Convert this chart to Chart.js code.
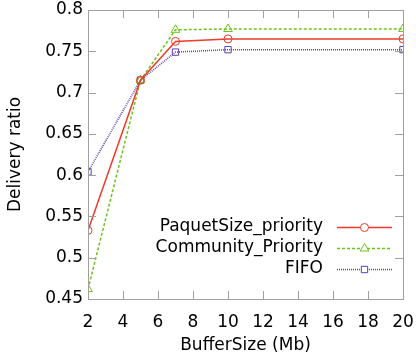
<!DOCTYPE html>
<html>
<head>
<meta charset="utf-8">
<script src="https://cdn.jsdelivr.net/npm/chart.js@4.4.1/dist/chart.umd.min.js"></script>
<style>
  html, body { margin: 0; padding: 0; background: #fff; }
  #wrap { width: 416px; height: 359px; position: relative; }
</style>
</head>
<body>
<div id="wrap"><canvas id="chart"></canvas></div>
<script>
'use strict';

// Data
const bufferSizes = [2, 5, 7, 10, 20];
const paquetSizePriority = [0.533, 0.715, 0.762, 0.765, 0.765];
const communityPriority = [0.462, 0.715, 0.776, 0.777, 0.777];
const fifo = [0.604, 0.715, 0.749, 0.752, 0.752];

const xTicks = [2, 4, 6, 8, 10, 12, 14, 16, 18, 20];
const yTicks = [0.45, 0.5, 0.55, 0.6, 0.65, 0.7, 0.75, 0.8];

const FONT = 'DejaVu Sans';
const BORDER = '#a0a0a0';

const toPoints = (ys) => bufferSizes.map((x, i) => ({ x: x, y: ys[i] }));

// gnuplot-like frame: grey border, inward ticks mirrored on all sides, legend inside
const framePlugin = {
    id: 'frame',
    afterDatasetsDraw(chart) {
        const { ctx, chartArea: a, scales } = chart;
        ctx.save();
        ctx.strokeStyle = BORDER;
        ctx.lineWidth = 1;
        ctx.setLineDash([]);
        ctx.strokeRect(Math.round(a.left) + 0.5, Math.round(a.top) + 0.5,
            Math.round(a.right - a.left), Math.round(a.bottom - a.top));

        const len = 8;
        ctx.beginPath();
        xTicks.forEach(v => {
            const px = Math.round(scales.x.getPixelForValue(v)) + 0.5;
            ctx.moveTo(px, a.bottom); ctx.lineTo(px, a.bottom - len);
            ctx.moveTo(px, a.top); ctx.lineTo(px, a.top + len);
        });
        yTicks.forEach(v => {
            const py = Math.round(scales.y.getPixelForValue(v)) + 0.5;
            ctx.moveTo(a.left, py); ctx.lineTo(a.left + len, py);
            ctx.moveTo(a.right, py); ctx.lineTo(a.right - len, py);
        });
        ctx.stroke();

        // Legend
        ctx.font = '17px "' + FONT + '"';
        ctx.textAlign = 'right';
        ctx.textBaseline = 'middle';
        chart.data.datasets.forEach((ds, i) => {
            const y = 227 + i * 21;
            ctx.fillStyle = '#000';
            ctx.fillText(ds.label, 323, y);
            ctx.strokeStyle = ds.borderColor;
            ctx.lineWidth = ds.borderWidth;
            ctx.setLineDash(ds.borderDash || []);
            ctx.beginPath();
            ctx.moveTo(337, y + 0.5);
            ctx.lineTo(392, y + 0.5);
            ctx.stroke();
            ctx.setLineDash([]);
            ctx.lineWidth = 1;
            ctx.strokeStyle = ds.borderColor;
            ctx.fillStyle = '#fff';
            Chart.helpers.drawPoint(ctx, {
                pointStyle: ds.pointStyle,
                radius: ds.pointRadius,
                borderWidth: 1,
                rotation: 0
            }, 364.5, y + 0.5);
        });
        ctx.restore();
    }
};

new Chart(document.getElementById('chart'), {
    type: 'line',
    data: {
        datasets: [{
            label: 'PaquetSize_priority',
            data: toPoints(paquetSizePriority),
            borderColor: '#ee3b2c',
            borderWidth: 1.5,
            pointStyle: 'circle',
            pointRadius: 4,
            pointBorderWidth: 1,
            pointBackgroundColor: 'rgba(0,0,0,0)'
        }, {
            label: 'Community_Priority',
            data: toPoints(communityPriority),
            borderColor: '#6cc41a',
            borderWidth: 1.5,
            borderDash: [3, 2],
            pointStyle: 'triangle',
            pointRadius: 5,
            pointBorderWidth: 1,
            pointBackgroundColor: 'rgba(0,0,0,0)'
        }, {
            label: 'FIFO',
            data: toPoints(fifo),
            borderColor: '#5b3fb4',
            borderWidth: 1.5,
            borderDash: [1, 1],
            pointStyle: 'rect',
            pointRadius: 4.5,
            pointBorderWidth: 1,
            pointBackgroundColor: 'rgba(0,0,0,0)'
        }]
    },
    options: {
        responsive: true,
        maintainAspectRatio: false,
        animation: false,
        tension: 0,
        layout: { padding: { left: 0, right: 13, top: 10, bottom: 0 } },
        plugins: {
            legend: { display: false },
            tooltip: { enabled: false }
        },
        scales: {
            x: {
                type: 'linear',
                min: 2,
                max: 20,
                afterBuildTicks: (scale) => { scale.ticks = xTicks.map(v => ({ value: v })); },
                afterFit: (scale) => {
                    scale.height = 60;
                    scale.paddingLeft = 0;
                    scale.paddingRight = 0;
                },
                grid: { display: false, drawTicks: false },
                border: { display: false },
                ticks: {
                    color: '#000',
                    padding: 13,
                    font: { family: FONT, size: 17 }
                },
                title: {
                    display: true,
                    text: 'BufferSize (Mb)',
                    color: '#000',
                    padding: { top: 1, bottom: 3 },
                    font: { family: FONT, size: 17 }
                }
            },
            y: {
                type: 'linear',
                min: 0.45,
                max: 0.8,
                afterBuildTicks: (scale) => { scale.ticks = yTicks.map(v => ({ value: v })); },
                afterFit: (scale) => {
                    scale.width = 88;
                    scale.paddingTop = 0;
                    scale.paddingBottom = 0;
                },
                grid: { display: false, drawTicks: false },
                border: { display: false },
                ticks: {
                    color: '#000',
                    padding: 5,
                    font: { family: FONT, size: 17 },
                    callback: (v) => String(+v.toFixed(2))
                },
                title: {
                    display: true,
                    text: 'Delivery ratio',
                    color: '#000',
                    padding: { top: 5, bottom: 4 },
                    font: { family: FONT, size: 17 }
                }
            }
        }
    },
    plugins: [framePlugin]
});
</script>
</body>
</html>
